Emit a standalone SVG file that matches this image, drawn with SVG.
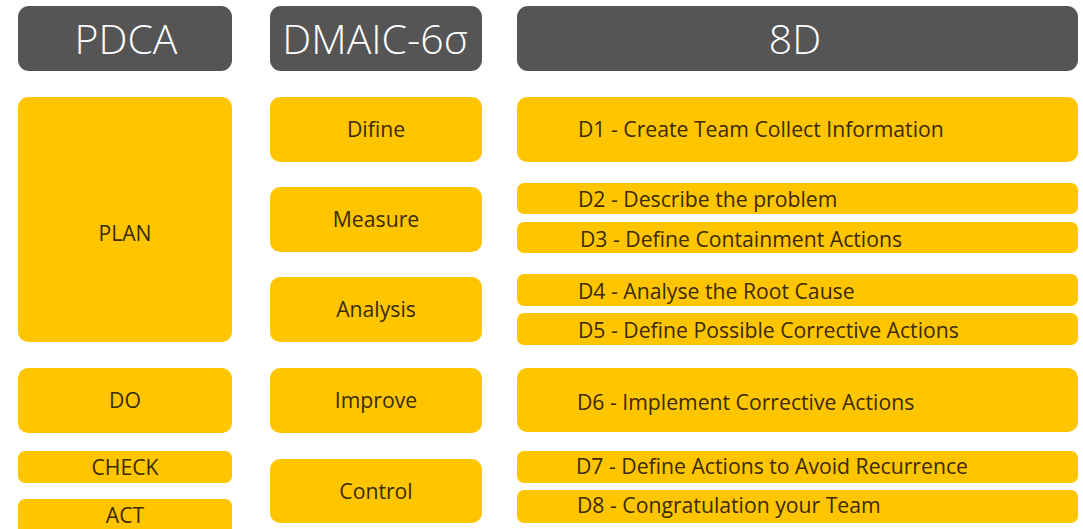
<svg xmlns="http://www.w3.org/2000/svg" width="1083" height="529" viewBox="0 0 1083 529">
  <style>
    .hdr { fill: #555555; }
    .box { fill: #FFC600; }
    .ht { font-family: "Open Sans", "Liberation Sans", sans-serif; font-weight: 300; font-size: 41px; fill: #ffffff; text-anchor: middle; }
    .t { font-family: "Open Sans", "Liberation Sans", sans-serif; font-size: 21.2px; fill: #3b2a05; }
    .c { text-anchor: middle; }
  </style>
  <rect width="1083" height="529" fill="#ffffff"/>

  <g id="header-pdca">
    <rect class="hdr" x="18" y="6" width="214" height="65" rx="11"/>
    <text class="ht" x="126" y="54">PDCA</text>
  </g>
  <g id="header-dmaic">
    <rect class="hdr" x="270" y="6" width="212" height="65" rx="11"/>
    <text class="ht" x="375" y="54">DMAIC-6σ</text>
  </g>
  <g id="header-8d">
    <rect class="hdr" x="517" y="6" width="561" height="65" rx="11"/>
    <text class="ht" x="795" y="54">8D</text>
  </g>

  <g id="plan">
    <rect class="box" x="18" y="97" width="214" height="245" rx="10"/>
    <text class="t c" x="125" y="241">PLAN</text>
  </g>
  <g id="do">
    <rect class="box" x="18" y="368" width="214" height="65" rx="10"/>
    <text class="t c" x="125" y="408">DO</text>
  </g>
  <g id="check">
    <rect class="box" x="18" y="451" width="214" height="32" rx="7"/>
    <text class="t c" x="125" y="475">CHECK</text>
  </g>
  <g id="act">
    <rect class="box" x="18" y="499" width="214" height="40" rx="7"/>
    <text class="t c" x="125" y="523">ACT</text>
  </g>

  <g id="define">
    <rect class="box" x="270" y="97" width="212" height="65" rx="10"/>
    <text class="t c" x="376" y="137">Difine</text>
  </g>
  <g id="measure">
    <rect class="box" x="270" y="187" width="212" height="65" rx="10"/>
    <text class="t c" x="376" y="227">Measure</text>
  </g>
  <g id="analysis">
    <rect class="box" x="270" y="277" width="212" height="65" rx="10"/>
    <text class="t c" x="376" y="317">Analysis</text>
  </g>
  <g id="improve">
    <rect class="box" x="270" y="368" width="212" height="65" rx="10"/>
    <text class="t c" x="376" y="408">Improve</text>
  </g>
  <g id="control">
    <rect class="box" x="270" y="459" width="212" height="64" rx="10"/>
    <text class="t c" x="376" y="499">Control</text>
  </g>

  <g id="d1">
    <rect class="box" x="517" y="97" width="561" height="65" rx="10"/>
    <text class="t" x="578" y="137">D1 - Create Team Collect Information</text>
  </g>
  <g id="d2">
    <rect class="box" x="517" y="183" width="561" height="31" rx="7"/>
    <text class="t" x="578" y="207">D2 - Describe the problem</text>
  </g>
  <g id="d3">
    <rect class="box" x="517" y="222" width="561" height="31" rx="7"/>
    <text class="t" x="580" y="247">D3 - Define Containment Actions</text>
  </g>
  <g id="d4">
    <rect class="box" x="517" y="274" width="561" height="32" rx="7"/>
    <text class="t" x="578" y="299">D4 - Analyse the Root Cause</text>
  </g>
  <g id="d5">
    <rect class="box" x="517" y="313" width="561" height="32" rx="7"/>
    <text class="t" x="578" y="338">D5 - Define Possible Corrective Actions</text>
  </g>
  <g id="d6">
    <rect class="box" x="517" y="368" width="561" height="64" rx="10"/>
    <text class="t" x="577" y="410">D6 - Implement Corrective Actions</text>
  </g>
  <g id="d7">
    <rect class="box" x="517" y="451" width="561" height="32" rx="7"/>
    <text class="t" x="576" y="474">D7 - Define Actions to Avoid Recurrence</text>
  </g>
  <g id="d8">
    <rect class="box" x="517" y="490" width="561" height="33" rx="7"/>
    <text class="t" x="577" y="513">D8 - Congratulation your Team</text>
  </g>

  <g id="connectors"></g>
</svg>
